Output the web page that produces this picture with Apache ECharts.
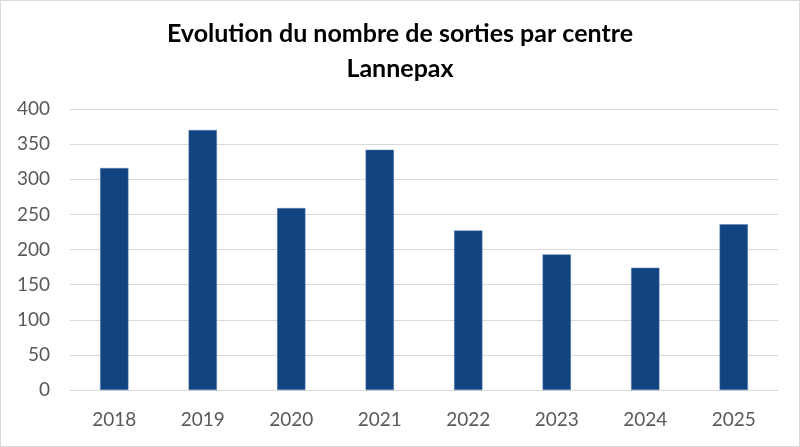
<!DOCTYPE html>
<html>
<head>
<meta charset="utf-8">
<script src="https://cdn.jsdelivr.net/npm/echarts@6/dist/echarts.min.js"></script>
<style>
html,body{margin:0;padding:0;background:#fff;}
#c{width:798px;height:445px;border:1px solid #d9d9d9;}
</style>
</head>
<body>
<div id="c"></div>
<script>
const categories = ['2018','2019','2020','2021','2022','2023','2024','2025'];
const sorties = [316, 370, 259, 342, 227, 193, 174, 236];
const yTicks = [0, 50, 100, 150, 200, 250, 300, 350, 400];

const chart = echarts.init(document.getElementById('c'));
chart.setOption({
  animation: false,
  title: {
    text: 'Evolution du nombre de sorties par centre\nLannepax',
    left: 'center',
    top: 10,
    textStyle: {
      fontFamily: 'Lato, "Open Sans", sans-serif',
      fontWeight: 'bold',
      fontSize: 25,
      lineHeight: 35,
      color: '#000'
    }
  },
  grid: { left: 69, right: 21, top: 108, bottom: 56 },
  xAxis: {
    type: 'category',
    data: categories,
    axisLine: { lineStyle: { color: '#d9d9d9', width: 1 } },
    axisTick: { show: false },
    axisLabel: {
      color: '#595959',
      fontSize: 19,
      fontFamily: 'Lato, "Open Sans", sans-serif',
      margin: 20
    }
  },
  yAxis: {
    type: 'value',
    min: yTicks[0],
    max: yTicks[yTicks.length - 1],
    interval: 50,
    axisLine: { show: false },
    axisTick: { show: false },
    splitLine: { lineStyle: { color: '#d9d9d9', width: 1 } },
    axisLabel: {
      color: '#595959',
      fontSize: 19,
      fontFamily: 'Lato, "Open Sans", sans-serif',
      margin: 20
    }
  },
  series: [{
    type: 'bar',
    data: sorties,
    barWidth: '32%',
    itemStyle: { color: '#10437F', borderColor: '#5b7fb0', borderWidth: 0.5 }
  }]
});
</script>
</body>
</html>
